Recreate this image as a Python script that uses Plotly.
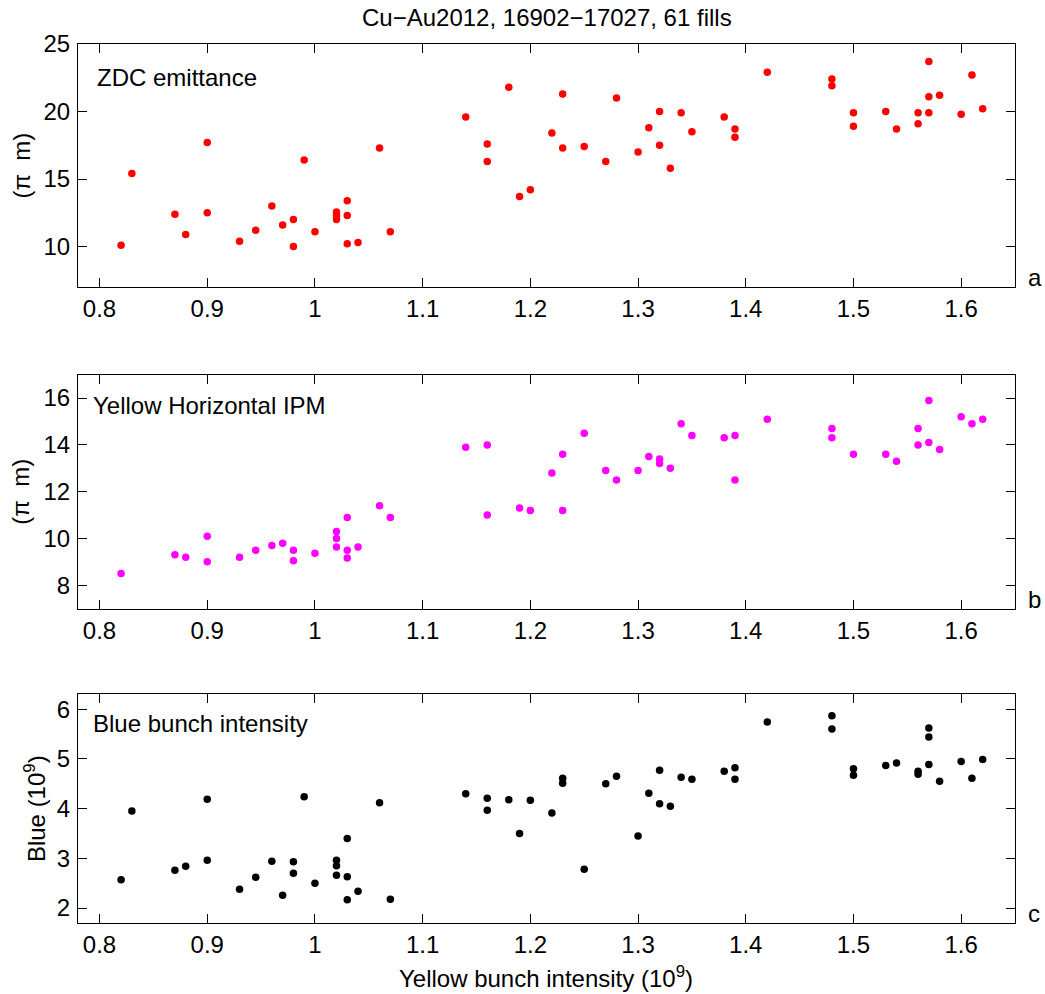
import plotly.graph_objects as go
from plotly.subplots import make_subplots

# Yellow bunch intensity (1e9) per fill
yellow = [0.82, 0.83, 0.87, 0.88, 0.90, 0.90, 0.93, 0.945, 0.96, 0.97,
          0.98, 0.98, 0.99, 1.00, 1.02, 1.02, 1.02, 1.03, 1.03, 1.03,
          1.04, 1.06, 1.07, 1.14, 1.16, 1.16, 1.18, 1.19, 1.20, 1.22,
          1.23, 1.23, 1.25, 1.27, 1.28, 1.30, 1.31, 1.32, 1.32, 1.33,
          1.34, 1.35, 1.38, 1.39, 1.39, 1.42, 1.48, 1.48, 1.50, 1.50,
          1.53, 1.54, 1.56, 1.56, 1.57, 1.57, 1.57, 1.58, 1.60, 1.61, 1.62]

# ZDC emittance (pi m)
zdc = [10.1, 15.4, 12.4, 10.9, 17.7, 12.5, 10.4, 11.2, 13.0, 11.6,
       12.0, 10.0, 16.4, 11.1, 12.55, 12.3, 12.0, 13.4, 12.3, 10.2,
       10.3, 17.3, 11.1, 19.6, 17.6, 16.3, 21.8, 13.7, 14.2, 18.4,
       21.3, 17.3, 17.4, 16.3, 21.0, 17.0, 18.8, 20.0, 17.5, 15.8,
       19.9, 18.5, 19.6, 18.7, 18.1, 22.9, 22.4, 21.9, 19.9, 18.9,
       20.0, 18.7, 19.9, 19.1, 23.7, 21.1, 19.9, 21.2, 19.8, 22.7, 20.2]

# Yellow horizontal IPM (pi m)
ipm = [8.5, None, 9.3, 9.2, 10.1, 9.0, 9.2, 9.5, 9.7, 9.8,
       9.5, 9.05, None, 9.37, 10.3, 10.0, 9.64, 10.9, 9.5, 9.17,
       9.64, 11.4, 10.9, 13.9, 14.0, 11.0, None, 11.3, 11.2, 12.8,
       13.6, 11.2, 14.5, 12.9, 12.5, 12.9, 13.5, 13.4, 13.2, 13.0,
       14.9, 14.4, 14.3, 14.4, 12.5, 15.1, 14.7, 14.3, 13.6, None,
       13.6, 13.3, 14.7, 14.0, 15.9, 14.1, None, 13.8, 15.2, 14.9, 15.1]

# Blue bunch intensity (1e9)
blue = [2.57, 3.95, 2.76, 2.84, 4.19, 2.96, 2.38, 2.62, 2.94, 2.26,
        2.93, 2.70, 4.24, 2.50, 2.96, 2.85, 2.66, 3.40, 2.63, 2.17,
        2.34, 4.12, 2.18, 4.30, 4.21, 3.97, 4.18, 3.50, 4.17, 3.91,
        4.61, 4.51, 2.78, 4.50, 4.65, 3.45, 4.31, 4.77, 4.10, 4.05,
        4.63, 4.59, 4.75, 4.82, 4.59, 5.74, 5.87, 5.60, 4.80, 4.67,
        4.87, 4.92, 4.75, 4.69, 5.62, 5.44, 4.89, 4.55, 4.95, 4.61, 4.99]

x_ticks = [0.8, 0.9, 1.0, 1.1, 1.2, 1.3, 1.4, 1.5, 1.6]
x_ticktext = ["0.8", "0.9", "1", "1.1", "1.2", "1.3", "1.4", "1.5", "1.6"]
zdc_ticks = [10, 15, 20, 25]
ipm_ticks = [8, 10, 12, 14, 16]
blue_ticks = [2, 3, 4, 5, 6]

panel_names = ["ZDC emittance", "Yellow Horizontal IPM", "Blue bunch intensity"]
panel_letters = ["a", "b", "c"]
y_titles = ["(\u03c0\u00a0 m)", "(\u03c0\u00a0 m)", "Blue (10<sup>9</sup>)"]
title_text = "Cu\u2212Au2012, 16902\u221217027, 61 fills"
x_title = "Yellow bunch intensity (10<sup>9</sup>)"

FONT = "Liberation Sans, Arial, Helvetica, sans-serif"
FS = 24

fig = make_subplots(rows=3, cols=1)
series = [(zdc, "#ff0000"), (ipm, "#ff00ff"), (blue, "#000000")]
for i, (vals, col) in enumerate(series, start=1):
    fig.add_trace(go.Scatter(x=yellow, y=vals, mode="markers",
                             marker=dict(color=col, size=7.5, line=dict(width=0)),
                             showlegend=False), row=i, col=1)

domains = [[0.7235, 1.0], [0.3576, 0.6238], [0.0, 0.2602]]
yranges = [[7, 25], [7, 17], [1.7, 6.3]]
yticks = [zdc_ticks, ipm_ticks, blue_ticks]

axis_common = dict(showline=True, mirror="ticks", linecolor="black", linewidth=1.2,
                   ticks="inside", ticklen=9, tickcolor="black", tickwidth=1,
                   showgrid=False, zeroline=False, automargin=False,
                   tickfont=dict(family=FONT, size=FS, color="black"))

for i in range(3):
    sx = "xaxis" if i == 0 else f"xaxis{i+1}"
    sy = "yaxis" if i == 0 else f"yaxis{i+1}"
    fig.update_layout(**{
        sx: dict(range=[0.78, 1.65], tickvals=x_ticks, ticktext=x_ticktext,
                 ticklabelstandoff=0, **axis_common),
        sy: dict(range=yranges[i], domain=domains[i], tickvals=yticks[i],
                 ticklabelstandoff=2, **axis_common),
    })

annotations = []
label_pos = [(0.0177, 0.861), (0.0139, 0.8675), (0.0139, 0.873)]
ytitle_x = [-0.0608, -0.0608, -0.0465]
for i in range(3):
    xr = "x domain" if i == 0 else f"x{i+1} domain"
    yr = "y domain" if i == 0 else f"y{i+1} domain"
    annotations.append(dict(text=panel_names[i], xref=xr, yref=yr,
                            x=label_pos[i][0], y=label_pos[i][1],
                            xanchor="left", yanchor="middle", showarrow=False,
                            font=dict(family=FONT, size=FS, color="black")))
    annotations.append(dict(text=panel_letters[i], xref="paper", yref=yr,
                            x=1.0, y=0.0, xanchor="left", yanchor="bottom",
                            xshift=11, yshift=-6, showarrow=False,
                            font=dict(family=FONT, size=FS, color="black")))
    annotations.append(dict(text=y_titles[i], xref="paper", yref=yr,
                            x=ytitle_x[i], y=0.5, xanchor="center", yanchor="middle",
                            textangle=-90, showarrow=False,
                            font=dict(family=FONT, size=FS, color="black")))

annotations.append(dict(text=x_title, xref="paper", yref="paper", x=0.4995, y=-0.0614,
                        xanchor="center", yanchor="middle", showarrow=False,
                        font=dict(family=FONT, size=FS, color="black")))
annotations.append(dict(text=title_text, xref="paper", yref="paper", x=0.5, y=1.0296,
                        xanchor="center", yanchor="middle", showarrow=False,
                        font=dict(family=FONT, size=FS, color="black")))

fig.update_layout(template="none", width=1045, height=994,
                  margin=dict(l=78, r=30, t=44, b=71),
                  paper_bgcolor="white", plot_bgcolor="white",
                  annotations=annotations,
                  font=dict(family=FONT, size=FS, color="black"))

fig.write_html("out.html", config={"displayModeBar": False},
               post_script="document.body.style.margin='0';document.body.style.overflow='hidden';")
